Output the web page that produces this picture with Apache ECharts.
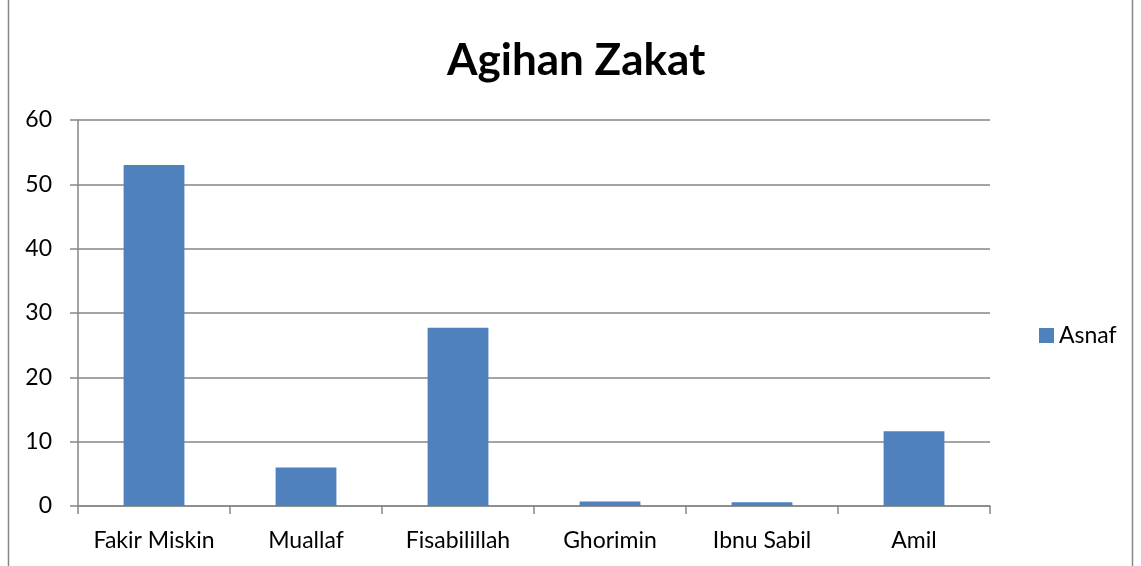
<!DOCTYPE html>
<html>
<head>
<meta charset="utf-8">
<script src="https://cdn.jsdelivr.net/npm/echarts@6/dist/echarts.min.js"></script>
<style>
  html, body { margin: 0; padding: 0; background: #fff; }
  #chart { width: 1141px; height: 566px; }
</style>
</head>
<body>
<div id="chart"></div>
<script>
const categories = ["Fakir Miskin", "Muallaf", "Fisabilillah", "Ghorimin", "Ibnu Sabil", "Amil"];
const asnafValues = [53, 6, 27.7, 0.7, 0.6, 11.6];
const seriesName = "Asnaf";

const chart = echarts.init(document.getElementById("chart"));
const font = "Lato, 'Open Sans', sans-serif";

chart.setOption({
  animation: false,
  backgroundColor: "#fff",
  title: {
    text: "Agihan Zakat",
    left: 442,
    top: 34,
    textStyle: { fontFamily: font, fontSize: 44, fontWeight: "bold", color: "#000" }
  },
  legend: {
    data: [seriesName],
    left: 1034,
    top: 319,
    icon: "rect",
    itemWidth: 15,
    itemHeight: 15,
    itemGap: 6,
    textStyle: { fontFamily: font, fontSize: 23, color: "#000" }
  },
  grid: { left: 78, right: 151, top: 120, bottom: 60, containLabel: false },
  xAxis: {
    type: "category",
    data: categories,
    axisLine: { lineStyle: { color: "#868686", width: 1.5 } },
    axisTick: { show: true, interval: 0, length: 8, lineStyle: { color: "#868686", width: 1.5 } },
    axisLabel: { interval: 0, fontFamily: font, fontSize: 23, color: "#000", margin: 23 }
  },
  yAxis: {
    type: "value",
    min: 0,
    max: 60,
    interval: 10,
    axisLine: { show: true, lineStyle: { color: "#868686", width: 1.5 } },
    axisTick: { show: true, length: 8, lineStyle: { color: "#868686", width: 1.5 } },
    axisLabel: { fontFamily: font, fontSize: 23, color: "#000", margin: 26 },
    splitLine: { lineStyle: { color: "#868686", width: 1.5 } }
  },
  series: [{
    name: seriesName,
    type: "bar",
    data: asnafValues,
    barWidth: "40%",
    itemStyle: { color: "#4F81BD" }
  }],
  graphic: [{
    type: "rect",
    shape: { x: 8.5, y: -2, width: 1124, height: 580 },
    style: { fill: "none", stroke: "#868686", lineWidth: 1.5 },
    silent: true
  }]
});
</script>
</body>
</html>
